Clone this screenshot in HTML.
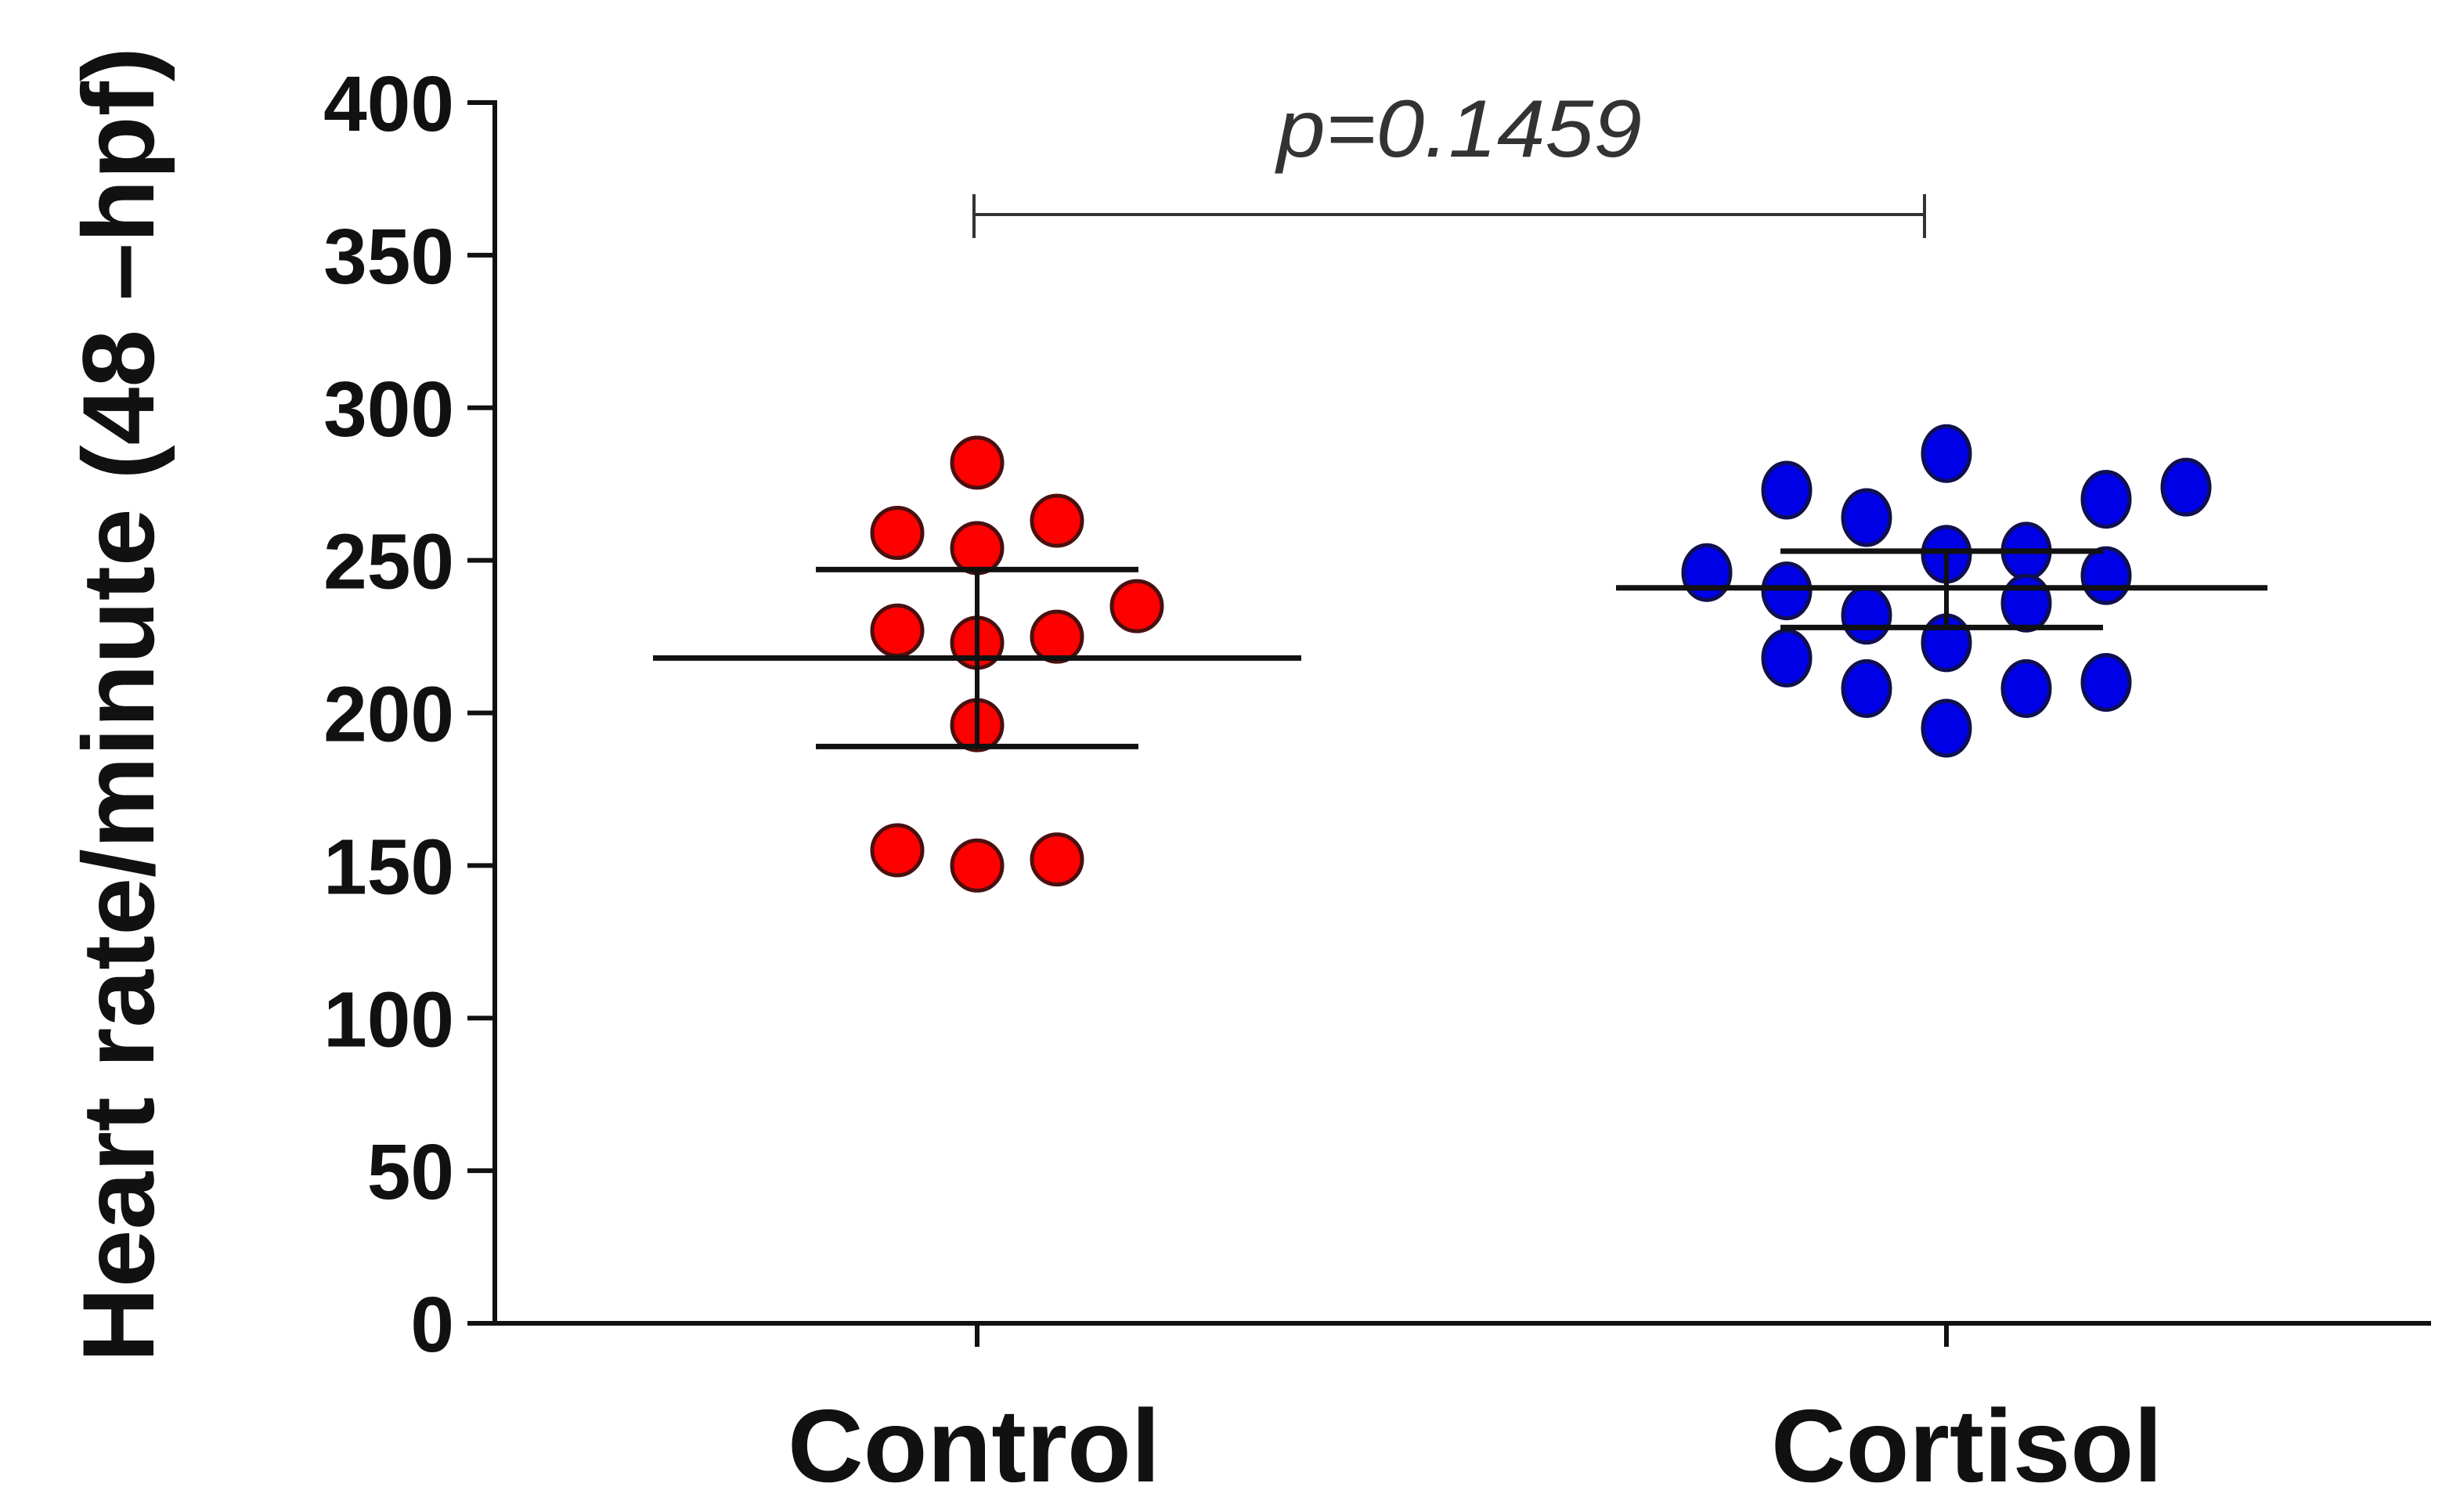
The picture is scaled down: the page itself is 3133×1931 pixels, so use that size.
<!DOCTYPE html>
<html><head><meta charset="utf-8"><style>html,body{margin:0;padding:0;background:#fff}svg{display:block}</style></head>
<body>
<svg id="chart" width="3133" height="1931" viewBox="0 0 3133 1931" xmlns="http://www.w3.org/2000/svg" font-family="'Liberation Sans', sans-serif"></svg>
<script>
const categories = ["Control", "Cortisol"];
const controlValues = [282, 259, 263, 254, 235, 227, 223, 225, 196, 155, 150, 152];
const controlSlots  = [0, -1, 1, 0, 2, -1, 0, 1, 0, -1, 0, 1];
const cortisolValues = [285, 273, 274, 264, 270, 246, 240, 252, 253, 245, 232, 236, 223, 218, 208, 208, 210, 195];
const cortisolSlots  = [0, -2, 3, -1, 2, -3, -2, 0, 1, 2, -1, 1, 0, -2, -1, 1, 2, 0];
const means = [218, 241];
const errUpper = [247, 253];
const errLower = [189, 228];
const yTicks = [0, 50, 100, 150, 200, 250, 300, 350, 400];
const pLabel = "p=0.1459";

const NS = "http://www.w3.org/2000/svg";
const svg = document.getElementById("chart");
const y0 = 1690, yPerUnit = 3.8975, axisX = 632;
const catX = [1248, 2486];
const slotW = 102;
function y(v){ return y0 - v * yPerUnit; }
function x(ci, slot){ return catX[ci] + slot * slotW; }
function el(tag, attrs, parent){
  const e = document.createElementNS(NS, tag);
  for (const k in attrs) e.setAttribute(k, attrs[k]);
  (parent || svg).appendChild(e);
  return e;
}

const yAxis = el("line", {x1: axisX, y1: y(400)-3, x2: axisX, y2: y0+3, stroke: "#111", "stroke-width": 6});


const xAxis = el("line", {x1: 602, y1: y0, x2: 3105, y2: y0, stroke: "#111", "stroke-width": 6});



yTicks.forEach(t => {
  const tk = el("line", {x1: 597, y1: y(t), x2: axisX, y2: y(t), stroke: "#111", "stroke-width": 6});
  
  
  const lb = el("text", {x: 580, y: y(t) + 36, "text-anchor": "end", "font-size": 100, "font-weight": "bold", fill: "#111"});
  lb.textContent = String(t);
  
  
});

categories.forEach((c, i) => {
  const tk = el("line", {x1: catX[i], y1: y0, x2: catX[i], y2: y0 + 30, stroke: "#111", "stroke-width": 6});
  
  
  const lb = el("text", {x: catX[i] - 4 + (i ? 30 : 0), y: 1892, "text-anchor": "middle", "font-size": 132, "font-weight": "bold", fill: "#111", textLength: i ? 500 : 476, lengthAdjust: "spacingAndGlyphs"});
  lb.textContent = c;
  
  
});

const yt = el("text", {x: 0, y: 0, transform: "translate(196,900) rotate(-90)", "text-anchor": "middle", "font-size": 130, "font-weight": "bold", fill: "#111", textLength: 1680, lengthAdjust: "spacingAndGlyphs"});
yt.textContent = "Heart rate/minute (48 \u2013hpf)";



controlValues.forEach((v, i) => {
  const c = el("circle", {cx: x(0, controlSlots[i]), cy: y(v), r: 32, fill: "#ff0000", stroke: "#4a1010", "stroke-width": 5});
  
  
});
cortisolValues.forEach((v, i) => {
  const c = el("ellipse", {cx: x(1, cortisolSlots[i]), cy: y(v), rx: 30, ry: 35, fill: "#0000e6", stroke: "#101050", "stroke-width": 5});
  
  
});

const meanHalf = [414, 416], errHalf = [206, 206];
means.forEach((m, i) => {
  const cx = catX[i] + (i ? -6 : 0);
  const ml = el("line", {x1: cx - meanHalf[i], y1: y(m), x2: cx + meanHalf[i], y2: y(m), stroke: "#111", "stroke-width": 7});
  
  
  const vl = el("line", {x1: catX[i], y1: y(errUpper[i]), x2: catX[i], y2: y(errLower[i]), stroke: "#111", "stroke-width": 6});
  
  
  [errUpper[i], errLower[i]].forEach(e => {
    const cap = el("line", {x1: cx - errHalf[i], y1: y(e), x2: cx + errHalf[i], y2: y(e), stroke: "#111", "stroke-width": 7});
    
    
  });
});

const br = el("path", {d: "M1244 248 V304 M1244 274 H2458 M2458 248 V304", stroke: "#333", "stroke-width": 4, fill: "none"});


const pt = el("text", {x: 1864, y: 200, "text-anchor": "middle", "font-size": 104, "font-style": "italic", fill: "#333", textLength: 466, lengthAdjust: "spacingAndGlyphs"});
pt.textContent = pLabel;


</script>
</body></html>
